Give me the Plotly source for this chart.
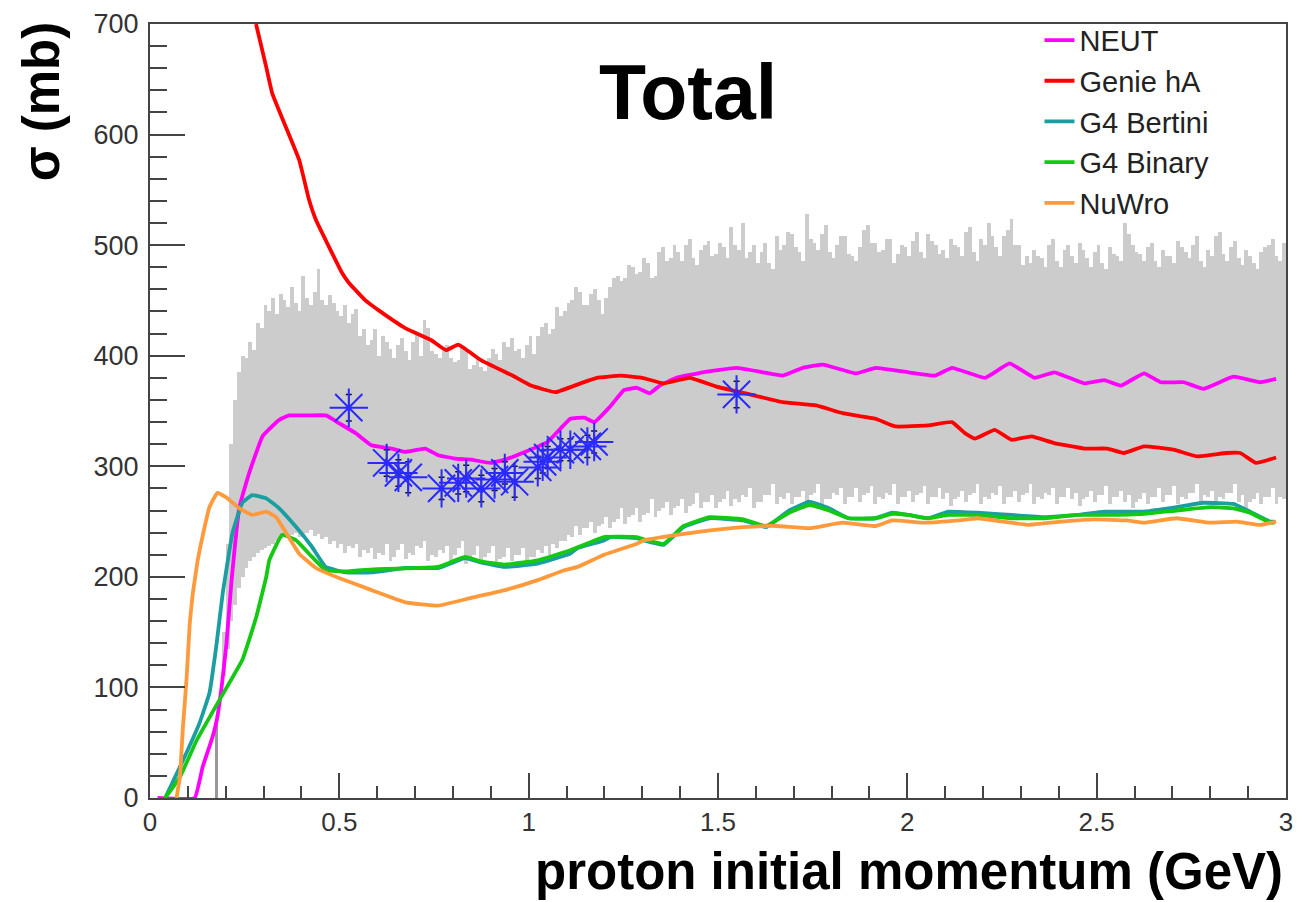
import plotly.graph_objects as go

FONT = "Liberation Sans, Arial, Helvetica, sans-serif"

# ---------------- data ----------------
neut_x = [0.02, 0.118, 0.139, 0.165, 0.176, 0.189, 0.202, 0.215, 0.236, 0.262, 0.297, 0.341, 0.367, 0.42,
          0.465, 0.499, 0.543, 0.585, 0.638, 0.674, 0.727, 0.761, 0.805, 0.848, 0.90, 0.937, 0.99, 1.05,
          1.11, 1.147, 1.173, 1.215, 1.252, 1.286, 1.32, 1.346, 1.39, 1.46, 1.549, 1.619, 1.671, 1.724,
          1.777, 1.864, 1.916, 2.003, 2.073, 2.118, 2.205, 2.27, 2.336, 2.388, 2.467, 2.52, 2.564, 2.625,
          2.669, 2.73, 2.782, 2.861, 2.932, 2.974]
neut_y = [0, 0, 28, 55, 70, 100, 140, 195, 263, 294, 327, 342, 346, 346,
          346, 339, 330, 319, 316, 313, 316, 310, 307, 306, 303, 306, 313, 322,
          343, 344, 340, 354, 369, 371, 366, 373, 380, 385, 389, 385, 382, 389,
          392, 384, 389, 385, 382, 389, 380, 393, 380, 385, 375, 378, 373, 384,
          376, 376, 370, 381, 376, 379]

genie_x = [0.28, 0.307, 0.323, 0.394, 0.42, 0.438, 0.507, 0.525, 0.569, 0.604, 0.674, 0.743, 0.782,
           0.814, 0.874, 0.963, 1.006, 1.071, 1.137, 1.18, 1.243, 1.30, 1.356, 1.426, 1.496, 1.584,
           1.671, 1.759, 1.829, 1.916, 1.969, 2.055, 2.118, 2.152, 2.178, 2.231, 2.275, 2.328, 2.388,
           2.467, 2.528, 2.572, 2.625, 2.703, 2.764, 2.843, 2.879, 2.921, 2.974]
genie_y = [700, 661, 637, 577, 541, 523, 475, 466, 450, 441, 425, 414, 405,
           410, 396, 381, 373, 367, 375, 380, 382, 380, 375, 380, 372, 365,
           358, 355, 348, 343, 336, 337, 340, 330, 325, 333, 324, 327, 321,
           316, 316, 312, 318, 315, 309, 312, 312, 303, 308]

bertini_x = [0.04, 0.087, 0.131, 0.157, 0.176, 0.192, 0.218, 0.244, 0.27, 0.307, 0.341, 0.386, 0.428,
             0.464, 0.517, 0.585, 0.674, 0.761, 0.832, 0.874, 0.937, 1.024, 1.11, 1.129, 1.199, 1.215,
             1.286, 1.304, 1.357, 1.409, 1.478, 1.567, 1.627, 1.688, 1.741, 1.793, 1.845, 1.916, 1.96,
             2.003, 2.055, 2.108, 2.186, 2.275, 2.362, 2.449, 2.52, 2.625, 2.711, 2.782, 2.861, 2.905,
             2.958, 2.97]
bertini_y = [0, 34, 68, 95, 140, 185, 240, 267, 274, 271, 262, 245, 227,
             209, 204, 204, 208, 208, 217, 213, 209, 212, 221, 226, 233, 236,
             235, 233, 229, 245, 253, 251, 245, 260, 268, 262, 253, 253, 258,
             256, 253, 259, 258, 256, 254, 256, 259, 259, 263, 267, 266, 259,
             250, 250]

binary_x = [0.04, 0.079, 0.123, 0.184, 0.244, 0.28, 0.307, 0.315, 0.349, 0.386, 0.428, 0.464, 0.52,
            0.6, 0.7, 0.761, 0.832, 0.874, 0.937, 1.024, 1.11, 1.199, 1.286, 1.304, 1.357, 1.409,
            1.478, 1.567, 1.627, 1.688, 1.741, 1.793, 1.845, 1.916, 1.96, 2.003, 2.055, 2.108, 2.186,
            2.275, 2.362, 2.449, 2.52, 2.625, 2.711, 2.80, 2.861, 2.905, 2.958, 2.97]
binary_y = [0, 19, 52, 89, 125, 163, 200, 215, 238, 233, 218, 206, 205,
            207, 208, 209, 218, 214, 211, 215, 224, 236, 236, 234, 230, 246,
            254, 252, 246, 258, 265, 260, 253, 253, 257, 256, 253, 256, 256,
            253, 253, 256, 256, 257, 260, 263, 262, 258, 249, 249]

nuwro_x = [0.07, 0.079, 0.087, 0.097, 0.105, 0.113, 0.126, 0.131, 0.157, 0.178, 0.201, 0.236, 0.27,
           0.307, 0.333, 0.359, 0.394, 0.438, 0.499, 0.585, 0.674, 0.761, 0.848, 0.937, 1.024, 1.094,
           1.129, 1.199, 1.286, 1.304, 1.391, 1.478, 1.567, 1.654, 1.741, 1.829, 1.916, 1.96, 2.047,
           2.134, 2.186, 2.318, 2.407, 2.493, 2.58, 2.625, 2.711, 2.80, 2.869, 2.932, 2.974]
nuwro_y = [0, 19, 64, 110, 158, 185, 215, 224, 263, 276, 272, 262, 256,
           259, 254, 240, 221, 208, 199, 188, 177, 174, 181, 188, 197, 206,
           209, 220, 230, 233, 238, 242, 245, 246, 244, 249, 246, 251, 249,
           251, 253, 247, 250, 252, 251, 249, 253, 249, 250, 247, 250]

data_x = [0.525, 0.625, 0.656, 0.682, 0.770, 0.814, 0.835, 0.875, 0.910, 0.937, 0.963, 1.024, 1.037,
          1.050, 1.084, 1.110, 1.155, 1.173, 1.549]
data_y = [353, 303, 294, 290, 280, 285, 289, 280, 288, 294, 286, 299, 304,
          308, 315, 315, 318, 322, 365]
data_err = [12, 12, 12, 14, 10, 10, 12, 12, 10, 10, 14, 10, 10,
            10, 10, 10, 10, 10, 12]

# grey band: histogram bins of 0.01 GeV, first bin centre 0.195 GeV
band_hi = [150, 230, 320, 360, 385, 400, 398, 412, 405, 430, 425, 446, 440, 452, 438, 456, 450, 444, 462, 448,
           440, 472, 452, 446, 458, 478, 450, 446, 455, 448, 440, 436, 446, 430, 438, 442, 418, 424, 410, 414,
           424, 400, 418, 412, 406, 398, 410, 416, 404, 396, 412, 420, 400, 432, 425, 404, 402, 398, 404, 410,
           398, 394, 396, 408, 404, 388, 392, 400, 390, 386, 398, 406, 402, 396, 412, 408, 416, 404, 406, 398,
           410, 418, 402, 418, 426, 430, 420, 424, 444, 436, 440, 448, 450, 462, 458, 446, 446, 456, 460, 450,
           438, 452, 462, 470, 472, 468, 470, 482, 480, 474, 476, 488, 484, 470, 472, 494, 498, 486, 488, 500,
           494, 486, 500, 506, 488, 482, 496, 500, 504, 490, 492, 502, 498, 488, 516, 500, 496, 520, 488, 494,
           500, 484, 494, 502, 484, 478, 508, 496, 500, 512, 510, 498, 494, 486, 528, 506, 502, 496, 510, 518,
           494, 488, 500, 508, 508, 492, 490, 486, 498, 514, 518, 502, 502, 494, 496, 506, 506, 484, 492, 500,
           498, 490, 504, 512, 494, 488, 510, 504, 500, 492, 496, 488, 506, 500, 498, 490, 512, 516, 494, 486,
           506, 500, 520, 508, 498, 490, 508, 514, 524, 500, 500, 482, 490, 484, 496, 490, 488, 480, 500, 506,
           486, 480, 496, 500, 490, 484, 502, 496, 488, 480, 494, 500, 484, 478, 498, 492, 490, 486, 520, 510,
           500, 494, 492, 486, 498, 502, 486, 480, 496, 490, 490, 484, 504, 498, 494, 488, 500, 508, 486, 480,
           496, 490, 508, 512, 492, 486, 498, 504, 488, 482, 496, 490, 484, 478, 494, 498, 500, 506, 490, 486,
           502]
band_lo = [110, 135, 160, 175, 190, 200, 208, 214, 218, 222, 224, 226, 228, 230, 232, 234, 236, 238, 238, 240,
           236, 238, 240, 242, 237, 239, 234, 236, 230, 232, 226, 230, 222, 228, 226, 230, 218, 224, 222, 226,
           216, 222, 220, 230, 214, 218, 224, 230, 216, 222, 220, 228, 226, 232, 214, 220, 218, 224, 222, 228,
           214, 220, 226, 232, 212, 218, 220, 228, 214, 218, 222, 228, 212, 216, 218, 226, 214, 220, 220, 226,
           214, 218, 218, 224, 222, 228, 220, 230, 226, 232, 232, 238, 236, 246, 238, 244, 244, 250, 240, 246,
           248, 254, 244, 250, 252, 262, 248, 254, 256, 262, 250, 256, 258, 270, 254, 260, 262, 268, 256, 262,
           264, 270, 258, 264, 266, 276, 262, 268, 268, 274, 262, 268, 270, 278, 264, 270, 268, 274, 272, 280,
           262, 268, 268, 274, 274, 284, 266, 272, 270, 276, 266, 272, 272, 278, 268, 274, 276, 284, 264, 270,
           270, 276, 274, 280, 266, 272, 272, 280, 268, 274, 276, 282, 266, 272, 270, 276, 274, 284, 266, 272,
           272, 278, 268, 274, 276, 282, 266, 272, 272, 280, 270, 276, 264, 270, 272, 278, 268, 274, 276, 284,
           266, 272, 270, 276, 274, 282, 266, 272, 272, 278, 268, 274, 276, 284, 266, 272, 270, 276, 274, 280,
           266, 272, 272, 280, 270, 276, 264, 270, 272, 278, 268, 274, 274, 282, 266, 272, 272, 278, 268, 274,
           262, 268, 270, 276, 266, 272, 272, 280, 268, 274, 274, 282, 266, 272, 270, 276, 276, 284, 268, 274,
           272, 278, 266, 272, 270, 276, 276, 284, 268, 274, 262, 268, 270, 276, 266, 272, 272, 280, 266, 272,
           270]
band_x = [round(0.195 + 0.01 * i, 3) for i in range(len(band_hi))]
band_h = [h - l for h, l in zip(band_hi, band_lo)]

spike_x = [0.176]
spike_hi = [68]

# ---------------- figure ----------------
fig = go.Figure()

fig.add_trace(go.Bar(x=band_x, y=band_h, base=band_lo, width=0.0102,
                     marker=dict(color="#cccccc", line=dict(width=0)),
                     showlegend=False, hoverinfo="skip"))
fig.add_trace(go.Bar(x=spike_x, y=spike_hi, width=0.005,
                     marker=dict(color="#999999", line=dict(width=0)),
                     showlegend=False, hoverinfo="skip"))

series = [
    ("NEUT", neut_x, neut_y, "#ff00ff"),
    ("Genie hA", genie_x, genie_y, "#ff0000"),
    ("G4 Bertini", bertini_x, bertini_y, "#1a9ea0"),
    ("G4 Binary", binary_x, binary_y, "#14c814"),
    ("NuWro", nuwro_x, nuwro_y, "#ff9a3c"),
]
for name, xs, ys, col in series:
    fig.add_trace(go.Scatter(x=xs, y=ys, mode="lines", name=name,
                             line=dict(color=col, width=3.8, shape="spline", smoothing=0.3)))

fig.add_trace(go.Scatter(x=data_x, y=data_y, mode="markers", showlegend=False,
                         marker=dict(symbol="asterisk-open", size=32, color="#2a2aff",
                                     line=dict(color="#2a2aff", width=2)),
                         error_y=dict(type="data", array=data_err, color="#111111",
                                      thickness=1.5, width=3)))

fig.update_layout(
    width=1300, height=902,
    margin=dict(l=150, r=7, t=24, b=104),
    paper_bgcolor="white", plot_bgcolor="white",
    barmode="overlay", bargap=0,
    font=dict(family=FONT, color="#333333"),
    legend=dict(x=0.783, y=1.012, xanchor="left", yanchor="top",
                font=dict(family=FONT, size=29, color="#222222"),
                bgcolor="rgba(255,255,255,0)", borderwidth=0, tracegroupgap=0),
    annotations=[
        dict(text="<b>Total</b>", x=0.474, y=0.912, xref="paper", yref="paper",
             showarrow=False, font=dict(family=FONT, size=77, color="black"),
             xanchor="center", yanchor="middle"),
        dict(text="<b>σ (mb)</b>", x=-0.096, y=0.9, xref="paper", yref="paper",
             showarrow=False, textangle=-90, font=dict(family=FONT, size=51, color="black"),
             xanchor="center", yanchor="middle"),
        dict(text="<b>proton initial momentum (GeV)</b>", x=0.998, y=-0.1331,
             xref="paper", yref="paper", showarrow=False, borderpad=0,
             font=dict(family=FONT, size=51, color="black"),
             xanchor="right", yanchor="bottom"),
    ],
)

axis_common = dict(showgrid=False, zeroline=False, showline=True, mirror=True,
                   linecolor="#444444", linewidth=2, ticks="inside", tickcolor="#444444",
                   tickwidth=2)

fig.update_xaxes(range=[0, 3], tickvals=[0, 0.5, 1, 1.5, 2, 2.5, 3],
                 ticktext=["0", "0.5", "1", "1.5", "2", "2.5", "3"],
                 ticklen=25, ticklabelstandoff=0,
                 tickfont=dict(family=FONT, size=26, color="#333333"),
                 minor=dict(dtick=0.1, ticks="inside", ticklen=12, tickcolor="#444444",
                            tickwidth=2, showgrid=False),
                 **axis_common)
fig.update_yaxes(range=[0, 700], tickvals=[0, 100, 200, 300, 400, 500, 600, 700],
                 ticklen=35, ticklabelstandoff=4,
                 tickfont=dict(family=FONT, size=27, color="#333333"),
                 minor=dict(dtick=20, ticks="inside", ticklen=17, tickcolor="#444444",
                            tickwidth=2, showgrid=False),
                 **axis_common)

fig.write_html("out.html")
